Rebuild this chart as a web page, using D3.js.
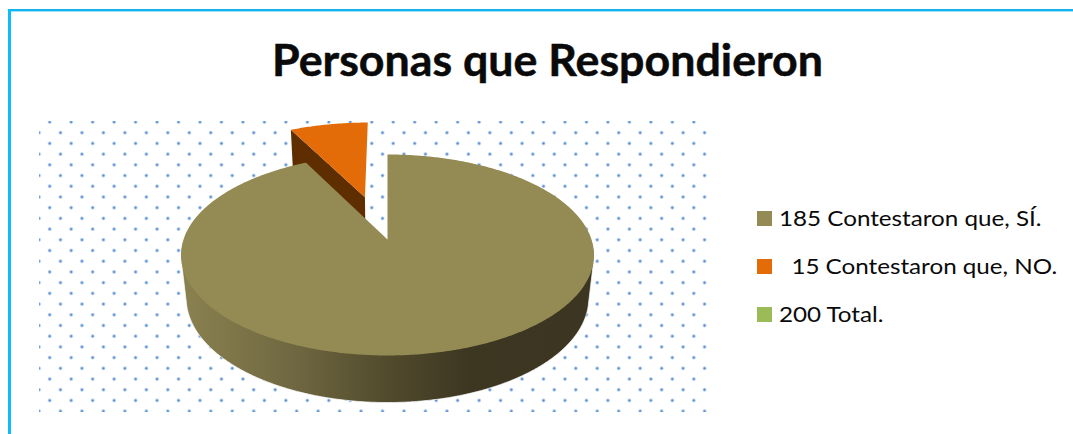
<!DOCTYPE html>
<html>
<head>
<meta charset="utf-8">
<script src="https://cdn.jsdelivr.net/npm/d3@7/dist/d3.min.js"></script>
<style>
  html, body { margin: 0; padding: 0; background: #fff; overflow: hidden; }
  svg { display: block; }
  text { font-family: Lato, "Open Sans", sans-serif; fill: #0a0a0a; white-space: pre; }
</style>
</head>
<body>
<svg id="chart" width="1073" height="434"></svg>
<script>
// Survey answers
const chartTitle = "Personas que Respondieron";
const sliceNames = ["SI", "NO"];
const sliceValues = [185, 15];
const legendLabels = ["185 Contestaron que, SÍ.", "  15 Contestaron que, NO.", "200 Total."];
const legendColors = ["#948a54", "#e36c09", "#9bbb59"];

const svg = d3.select("#chart");
const defs = svg.append("defs");

// Frame: only the top and left edges are ruled
svg.append("rect").attr("x", 8).attr("y", 9).attr("width", 1065).attr("height", 2.4).attr("fill", "#12b4ee");
svg.append("rect").attr("x", 8).attr("y", 9).attr("width", 3).attr("height", 425).attr("fill", "#0cbcfb");

// Title, widened slightly to the heading's set width
svg.append("text")
  .attr("x", 272).attr("y", 76)
  .attr("font-size", 43).attr("font-weight", 700)
  .attr("stroke", "#0a0a0a").attr("stroke-width", 0.5)
  .attr("textLength", 551).attr("lengthAdjust", "spacingAndGlyphs")
  .text(chartTitle);

// Dotted plot-area background
const plot = { x0: 39, x1: 708, y0: 121, y1: 412 };
defs.append("clipPath").attr("id", "plotClip").append("rect")
  .attr("x", plot.x0).attr("y", plot.y0)
  .attr("width", plot.x1 - plot.x0).attr("height", plot.y1 - plot.y0);
const dotGrad = defs.append("radialGradient").attr("id", "dot");
dotGrad.append("stop").attr("offset", "0%").attr("stop-color", "#4f86cc");
dotGrad.append("stop").attr("offset", "35%").attr("stop-color", "#74a1da");
dotGrad.append("stop").attr("offset", "100%").attr("stop-color", "#d6e4f6").attr("stop-opacity", 0.3);

const dots = [];
d3.range(0, 28).forEach(r => {
  const y = 122 + r * 10.71;
  const start = r % 2 ? 39 : 49.7;
  d3.range(0, 32).forEach(c => {
    const x = start + c * 21.47;
    if (x < plot.x1 + 3) dots.push([x, y]);
  });
});
svg.append("g").attr("clip-path", "url(#plotClip)")
  .selectAll("circle").data(dots).join("circle")
  .attr("cx", d => d[0]).attr("cy", d => d[1]).attr("r", 2.4)
  .attr("fill", "url(#dot)");

// Perspective view of the tilted pie: disc coordinates (u right, v toward viewer),
// depth 0 is the top face and depth 1 the underside.
const view = { cx: 387.5, cy: 239.5, rx: 204, ry: 98.1, persp: 0.154, drop: 43.9, shrink: 0.025 };
function project(u, v, depth) {
  const w = 1 - view.persp * v + view.shrink * depth;
  return [view.cx + view.rx * u / w, view.cy + (view.ry * v + view.drop * depth) / w];
}
function rimPoint(theta, depth, off) {
  return project(off[0] + Math.sin(theta), off[1] - Math.cos(theta), depth);
}
function arcPoints(a0, a1, depth, off) {
  const n = Math.max(2, Math.ceil(Math.abs(a1 - a0) / 0.01));
  return d3.range(n + 1).map(i => rimPoint(a0 + (a1 - a0) * i / n, depth, off));
}
const lineGen = d3.line().curve(d3.curveLinear);

const arcs = d3.pie().sort(null)(sliceValues);
const color = d3.scaleOrdinal().domain(sliceNames).range(legendColors.slice(0, 2));
const explode = 0.473;

// Side wall shading of the large slice
const wallGrad = defs.append("linearGradient").attr("id", "wall")
  .attr("gradientUnits", "userSpaceOnUse")
  .attr("x1", 184).attr("x2", 592).attr("y1", 0).attr("y2", 0);
[[0, "#8a8150"], [0.28, "#6e6640"], [0.5, "#514a2c"], [0.7, "#3d3722"], [1, "#3b3521"]]
  .forEach(s => wallGrad.append("stop").attr("offset", s[0]).attr("stop-color", s[1]));

// Detached slice first, since the large slice overlaps it
const small = arcs[1];
const mid = (small.startAngle + small.endAngle) / 2;
const off = [explode * Math.sin(mid) - 0.008, -explode * Math.cos(mid)];
const smallCut = [
  project(off[0], off[1], 0),
  rimPoint(small.startAngle, 0, off),
  rimPoint(small.startAngle, 1, off),
  project(off[0], off[1], 1)
];
svg.append("path").attr("d", lineGen(smallCut) + "Z").attr("fill", "#5f2e00");
svg.append("path")
  .attr("d", lineGen([project(off[0], off[1], 0), ...arcPoints(small.startAngle, small.endAngle, 0, off)]) + "Z")
  .attr("fill", color(sliceNames[1]));

// Large slice: wall silhouette, then top face
const big = arcs[0];
const wallFrom = 95 * Math.PI / 180, wallTo = 265 * Math.PI / 180;
const wallPts = d3.polygonHull([
  ...arcPoints(wallFrom, wallTo, 0, [0, 0]),
  ...arcPoints(wallFrom, wallTo, 1, [0, 0])
]);
svg.append("path").attr("d", lineGen(wallPts) + "Z").attr("fill", "url(#wall)")
  .attr("stroke", "#fff").attr("stroke-width", 1).attr("stroke-opacity", 0.7);
svg.append("path")
  .attr("d", lineGen([project(0, 0, 0), ...arcPoints(big.startAngle, big.endAngle, 0, [0, 0])]) + "Z")
  .attr("fill", color(sliceNames[0]));

// Legend; labels are set a little wider than the font's natural proportions
const legendY = d3.scalePoint().domain(legendLabels).range([211, 307]);
const legend = svg.append("g").selectAll("g").data(legendLabels).join("g")
  .attr("transform", d => `translate(757,${legendY(d)})`);
legend.append("rect").attr("width", 15).attr("height", 15)
  .attr("fill", (d, i) => legendColors[i]);
legend.append("text")
  .attr("transform", "translate(22,15) scale(1.1,1)")
  .attr("font-size", 22)
  .text(d => d);
</script>
</body>
</html>
